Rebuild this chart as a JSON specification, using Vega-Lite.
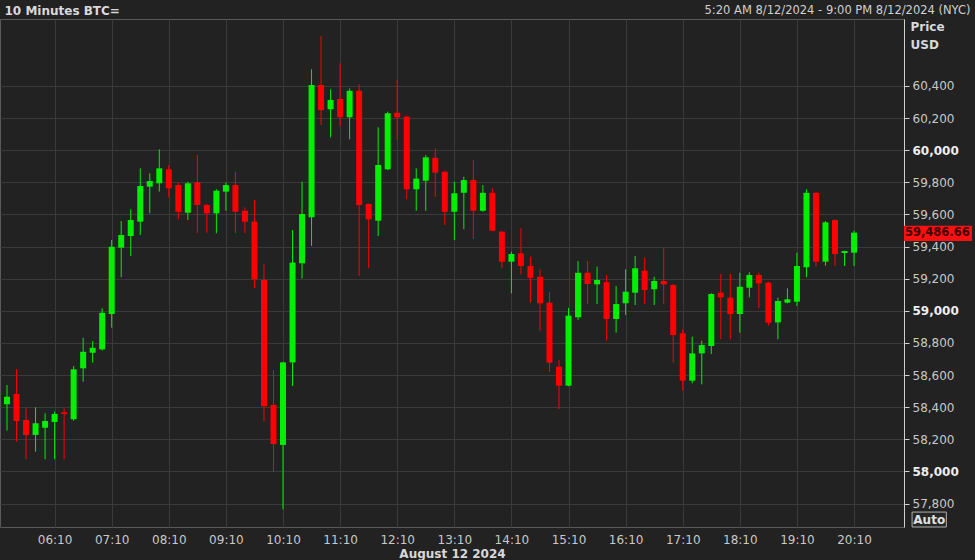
{
  "$schema": "https://vega.github.io/schema/vega-lite/v6.json",
  "width": 904,
  "height": 508,
  "autosize": {"type": "none"},
  "padding": {"left": 0, "top": 19, "right": 71, "bottom": 33},
  "background": "#222222",
  "config": {
    "view": {"stroke": "#5a5a5a", "fill": "#222222"},
    "axis": {"labelFont": "DejaVu Sans", "titleFont": "DejaVu Sans"}
  },
  "data": {"values": [
    {"t": "2024-08-12T05:20", "open": 58418, "high": 58538, "low": 58254, "close": 58465},
    {"t": "2024-08-12T05:30", "open": 58482, "high": 58636, "low": 58185, "close": 58314},
    {"t": "2024-08-12T05:40", "open": 58320, "high": 58393, "low": 58076, "close": 58227},
    {"t": "2024-08-12T05:50", "open": 58227, "high": 58399, "low": 58123, "close": 58300},
    {"t": "2024-08-12T06:00", "open": 58272, "high": 58362, "low": 58076, "close": 58314},
    {"t": "2024-08-12T06:10", "open": 58308, "high": 58372, "low": 58076, "close": 58358},
    {"t": "2024-08-12T06:20", "open": 58368, "high": 58393, "low": 58076, "close": 58358},
    {"t": "2024-08-12T06:30", "open": 58325, "high": 58656, "low": 58315, "close": 58636},
    {"t": "2024-08-12T06:40", "open": 58642, "high": 58833, "low": 58559, "close": 58745},
    {"t": "2024-08-12T06:50", "open": 58739, "high": 58812, "low": 58677, "close": 58770},
    {"t": "2024-08-12T07:00", "open": 58760, "high": 59016, "low": 58752, "close": 58988},
    {"t": "2024-08-12T07:10", "open": 58980, "high": 59441, "low": 58895, "close": 59399},
    {"t": "2024-08-12T07:20", "open": 59393, "high": 59559, "low": 59209, "close": 59472},
    {"t": "2024-08-12T07:30", "open": 59466, "high": 59632, "low": 59341, "close": 59565},
    {"t": "2024-08-12T07:40", "open": 59555, "high": 59887, "low": 59472, "close": 59777},
    {"t": "2024-08-12T07:50", "open": 59773, "high": 59856, "low": 59607, "close": 59808},
    {"t": "2024-08-12T08:00", "open": 59794, "high": 60005, "low": 59742, "close": 59887},
    {"t": "2024-08-12T08:10", "open": 59881, "high": 59908, "low": 59707, "close": 59763},
    {"t": "2024-08-12T08:20", "open": 59783, "high": 59798, "low": 59570, "close": 59617},
    {"t": "2024-08-12T08:30", "open": 59611, "high": 59804, "low": 59565, "close": 59794},
    {"t": "2024-08-12T08:40", "open": 59800, "high": 59970, "low": 59486, "close": 59659},
    {"t": "2024-08-12T08:50", "open": 59659, "high": 59665, "low": 59486, "close": 59607},
    {"t": "2024-08-12T09:00", "open": 59607, "high": 59757, "low": 59483, "close": 59748},
    {"t": "2024-08-12T09:10", "open": 59742, "high": 59798, "low": 59623, "close": 59783},
    {"t": "2024-08-12T09:20", "open": 59783, "high": 59866, "low": 59483, "close": 59617},
    {"t": "2024-08-12T09:30", "open": 59623, "high": 59644, "low": 59483, "close": 59555},
    {"t": "2024-08-12T09:40", "open": 59555, "high": 59690, "low": 59140, "close": 59196},
    {"t": "2024-08-12T09:50", "open": 59192, "high": 59290, "low": 58310, "close": 58407},
    {"t": "2024-08-12T10:00", "open": 58414, "high": 58631, "low": 57998, "close": 58171},
    {"t": "2024-08-12T10:10", "open": 58165, "high": 58683, "low": 57764, "close": 58679},
    {"t": "2024-08-12T10:20", "open": 58679, "high": 59503, "low": 58532, "close": 59300},
    {"t": "2024-08-12T10:30", "open": 59296, "high": 59804, "low": 59202, "close": 59603},
    {"t": "2024-08-12T10:40", "open": 59582, "high": 60504, "low": 59404, "close": 60406},
    {"t": "2024-08-12T10:50", "open": 60406, "high": 60711, "low": 60157, "close": 60250},
    {"t": "2024-08-12T11:00", "open": 60255, "high": 60379, "low": 60080, "close": 60313},
    {"t": "2024-08-12T11:10", "open": 60319, "high": 60541, "low": 60151, "close": 60205},
    {"t": "2024-08-12T11:20", "open": 60205, "high": 60385, "low": 60068, "close": 60370},
    {"t": "2024-08-12T11:30", "open": 60370, "high": 60410, "low": 59217, "close": 59659},
    {"t": "2024-08-12T11:40", "open": 59665, "high": 59669, "low": 59265, "close": 59570},
    {"t": "2024-08-12T11:50", "open": 59561, "high": 60143, "low": 59466, "close": 59908},
    {"t": "2024-08-12T12:00", "open": 59881, "high": 60240, "low": 59877, "close": 60230},
    {"t": "2024-08-12T12:10", "open": 60233, "high": 60437, "low": 60064, "close": 60205},
    {"t": "2024-08-12T12:20", "open": 60209, "high": 60215, "low": 59694, "close": 59757},
    {"t": "2024-08-12T12:30", "open": 59757, "high": 59887, "low": 59623, "close": 59823},
    {"t": "2024-08-12T12:40", "open": 59810, "high": 59970, "low": 59623, "close": 59956},
    {"t": "2024-08-12T12:50", "open": 59953, "high": 60012, "low": 59710, "close": 59860},
    {"t": "2024-08-12T13:00", "open": 59866, "high": 59870, "low": 59534, "close": 59617},
    {"t": "2024-08-12T13:10", "open": 59617, "high": 59804, "low": 59441, "close": 59732},
    {"t": "2024-08-12T13:20", "open": 59735, "high": 59835, "low": 59508, "close": 59814},
    {"t": "2024-08-12T13:30", "open": 59814, "high": 59939, "low": 59447, "close": 59623},
    {"t": "2024-08-12T13:40", "open": 59623, "high": 59783, "low": 59617, "close": 59735},
    {"t": "2024-08-12T13:50", "open": 59735, "high": 59763, "low": 59495, "close": 59499},
    {"t": "2024-08-12T14:00", "open": 59493, "high": 59497, "low": 59265, "close": 59306},
    {"t": "2024-08-12T14:10", "open": 59306, "high": 59368, "low": 59109, "close": 59354},
    {"t": "2024-08-12T14:20", "open": 59358, "high": 59514, "low": 59227, "close": 59279},
    {"t": "2024-08-12T14:30", "open": 59279, "high": 59337, "low": 59051, "close": 59206},
    {"t": "2024-08-12T14:40", "open": 59212, "high": 59258, "low": 58876, "close": 59047},
    {"t": "2024-08-12T14:50", "open": 59051, "high": 59119, "low": 58621, "close": 58677},
    {"t": "2024-08-12T15:00", "open": 58652, "high": 58694, "low": 58387, "close": 58534},
    {"t": "2024-08-12T15:10", "open": 58534, "high": 59019, "low": 58530, "close": 58970},
    {"t": "2024-08-12T15:20", "open": 58960, "high": 59310, "low": 58943, "close": 59237},
    {"t": "2024-08-12T15:30", "open": 59237, "high": 59310, "low": 59042, "close": 59167},
    {"t": "2024-08-12T15:40", "open": 59165, "high": 59275, "low": 59042, "close": 59192},
    {"t": "2024-08-12T15:50", "open": 59178, "high": 59223, "low": 58814, "close": 58949},
    {"t": "2024-08-12T16:00", "open": 58949, "high": 59155, "low": 58864, "close": 59042},
    {"t": "2024-08-12T16:10", "open": 59047, "high": 59258, "low": 58974, "close": 59119},
    {"t": "2024-08-12T16:20", "open": 59113, "high": 59341, "low": 59036, "close": 59265},
    {"t": "2024-08-12T16:30", "open": 59250, "high": 59333, "low": 59042, "close": 59130},
    {"t": "2024-08-12T16:40", "open": 59134, "high": 59212, "low": 59036, "close": 59186},
    {"t": "2024-08-12T16:50", "open": 59186, "high": 59389, "low": 59042, "close": 59165},
    {"t": "2024-08-12T17:00", "open": 59161, "high": 59167, "low": 58677, "close": 58849},
    {"t": "2024-08-12T17:10", "open": 58860, "high": 58885, "low": 58503, "close": 58565},
    {"t": "2024-08-12T17:20", "open": 58565, "high": 58839, "low": 58549, "close": 58735},
    {"t": "2024-08-12T17:30", "open": 58735, "high": 58814, "low": 58542, "close": 58787},
    {"t": "2024-08-12T17:40", "open": 58781, "high": 59109, "low": 58731, "close": 59105},
    {"t": "2024-08-12T17:50", "open": 59113, "high": 59229, "low": 58823, "close": 59084},
    {"t": "2024-08-12T18:00", "open": 59082, "high": 59229, "low": 58823, "close": 58980},
    {"t": "2024-08-12T18:10", "open": 58980, "high": 59237, "low": 58864, "close": 59150},
    {"t": "2024-08-12T18:20", "open": 59144, "high": 59240, "low": 59084, "close": 59223},
    {"t": "2024-08-12T18:30", "open": 59223, "high": 59237, "low": 59016, "close": 59171},
    {"t": "2024-08-12T18:40", "open": 59175, "high": 59181, "low": 58907, "close": 58926},
    {"t": "2024-08-12T18:50", "open": 58928, "high": 59082, "low": 58823, "close": 59061},
    {"t": "2024-08-12T19:00", "open": 59051, "high": 59140, "low": 59047, "close": 59072},
    {"t": "2024-08-12T19:10", "open": 59057, "high": 59362, "low": 59030, "close": 59279},
    {"t": "2024-08-12T19:20", "open": 59271, "high": 59757, "low": 59209, "close": 59735},
    {"t": "2024-08-12T19:30", "open": 59735, "high": 59742, "low": 59275, "close": 59306},
    {"t": "2024-08-12T19:40", "open": 59306, "high": 59559, "low": 59281, "close": 59551},
    {"t": "2024-08-12T19:50", "open": 59565, "high": 59570, "low": 59279, "close": 59354},
    {"t": "2024-08-12T20:00", "open": 59360, "high": 59374, "low": 59279, "close": 59372},
    {"t": "2024-08-12T20:10", "open": 59362, "high": 59499, "low": 59279, "close": 59486.66}
  ]},
  "layer": [
    {
      "mark": {"type": "rule", "strokeWidth": 1},
      "encoding": {
        "x": {"field": "t", "type": "temporal",
          "scale": {"nice": false, "padding": 0, "domain": [{"year": 2024, "month": 8, "date": 12, "hours": 5, "minutes": 12, "seconds": 38}, {"year": 2024, "month": 8, "date": 12, "hours": 21, "minutes": 2, "seconds": 30}]},
          "axis": {"orient": "top", "title": "5:20 AM 8/12/2024 - 9:00 PM 8/12/2024 (NYC)", "labels": false, "ticks": false, "domain": false, "grid": false,
            "titleX": 970, "titleY": -9, "titleAlign": "right", "titleBaseline": "middle", "titleFontSize": 11.5, "titleFontWeight": "normal", "titleColor": "#d0d0d0"}},
        "y": {"field": "low", "type": "quantitative", "scale": {"domain": [57654, 60817], "nice": false, "zero": false}, "axis": null},
        "y2": {"field": "high"},
        "color": {"condition": {"test": "datum.open < datum.close", "value": "#00f000"}, "value": "#ff0000"}
      }
    },
    {
      "mark": {"type": "bar", "width": 6},
      "encoding": {
        "x": {"field": "t", "type": "temporal",
          "scale": {"nice": false, "padding": 0, "domain": [{"year": 2024, "month": 8, "date": 12, "hours": 5, "minutes": 12, "seconds": 38}, {"year": 2024, "month": 8, "date": 12, "hours": 21, "minutes": 2, "seconds": 30}]},
          "axis": {"orient": "bottom", "format": "%H:%M", "title": "August 12 2024",
            "values": [
              {"year": 2024, "month": 8, "date": 12, "hours": 6, "minutes": 10},
              {"year": 2024, "month": 8, "date": 12, "hours": 7, "minutes": 10},
              {"year": 2024, "month": 8, "date": 12, "hours": 8, "minutes": 10},
              {"year": 2024, "month": 8, "date": 12, "hours": 9, "minutes": 10},
              {"year": 2024, "month": 8, "date": 12, "hours": 10, "minutes": 10},
              {"year": 2024, "month": 8, "date": 12, "hours": 11, "minutes": 10},
              {"year": 2024, "month": 8, "date": 12, "hours": 12, "minutes": 10},
              {"year": 2024, "month": 8, "date": 12, "hours": 13, "minutes": 10},
              {"year": 2024, "month": 8, "date": 12, "hours": 14, "minutes": 10},
              {"year": 2024, "month": 8, "date": 12, "hours": 15, "minutes": 10},
              {"year": 2024, "month": 8, "date": 12, "hours": 16, "minutes": 10},
              {"year": 2024, "month": 8, "date": 12, "hours": 17, "minutes": 10},
              {"year": 2024, "month": 8, "date": 12, "hours": 18, "minutes": 10},
              {"year": 2024, "month": 8, "date": 12, "hours": 19, "minutes": 10},
              {"year": 2024, "month": 8, "date": 12, "hours": 20, "minutes": 10}
            ],
            "grid": true, "gridColor": "#3a3a3a", "gridWidth": 1, "domain": false, "ticks": false,
            "labelPadding": 7, "labelFontSize": 12, "labelColor": "#c8c8c8", "labelFlush": false,
            "titleFontSize": 12, "titleFontWeight": "bold", "titleColor": "#d8d8d8", "titleY": 26, "titleBaseline": "middle"}},
        "y": {"field": "open", "type": "quantitative", "scale": {"domain": [57654, 60817], "nice": false, "zero": false},
          "axis": {"orient": "right", "values": [57800, 58000, 58200, 58400, 58600, 58800, 59000, 59200, 59400, 59600, 59800, 60000, 60200, 60400],
            "format": ",.0f", "grid": true, "gridColor": "#3a3a3a", "domainColor": "#d0d0d0", "tickColor": "#d0d0d0", "tickSize": 5,
            "labelPadding": 3, "labelFontSize": 12, "labelFlush": false,
            "labelColor": {"condition": {"test": "datum.value % 1000 === 0", "value": "#eeeeee"}, "value": "#c8c8c8"},
            "labelFontWeight": {"condition": {"test": "datum.value % 1000 === 0", "value": "bold"}, "value": "normal"},
            "title": ["Price", "USD"], "titleAngle": 0, "titleAlign": "left", "titleBaseline": "top", "titleX": 6, "titleY": 2,
            "titleFontSize": 12, "titleFontWeight": "bold", "titleColor": "#d8d8d8", "titleLineHeight": 18}},
        "y2": {"field": "close"},
        "color": {"condition": {"test": "datum.open < datum.close", "value": "#00f000"}, "value": "#ff0000"}
      }
    },
    {
      "data": {"values": [{"price": 59486.66}]},
      "mark": {"type": "rect", "color": "#ff1010"},
      "encoding": {
        "x": {"datum": {"year": 2024, "month": 8, "date": 12, "hours": 21, "minutes": 2, "seconds": 30}, "type": "temporal",
          "axis": {"orient": "top", "title": "10 Minutes BTC=", "labels": false, "ticks": false, "domain": false, "grid": false,
            "titleX": 4, "titleY": -9, "titleAlign": "left", "titleBaseline": "middle", "titleFontSize": 12, "titleFontWeight": "bold", "titleColor": "#d9d9d9"}},
        "x2": {"datum": {"year": 2024, "month": 8, "date": 12, "hours": 22, "minutes": 14}},
        "y": {"datum": 59530, "type": "quantitative", "axis": null},
        "y2": {"datum": 59434}
      }
    },
    {
      "data": {"values": [{"price": 59486.66}]},
      "mark": {"type": "text", "align": "left", "baseline": "middle", "font": "DejaVu Sans", "fontSize": 11.5, "fontWeight": "bold", "color": "#3c0000"},
      "encoding": {
        "x": {"datum": {"year": 2024, "month": 8, "date": 12, "hours": 21, "minutes": 3, "seconds": 30}, "type": "temporal", "axis": null},
        "y": {"field": "price", "type": "quantitative", "axis": null},
        "text": {"field": "price", "format": ",.2f"}
      }
    },
    {
      "data": {"values": [{"label": "Auto"}]},
      "mark": {"type": "rect", "fill": "#262626", "stroke": "#b0b0b0", "strokeWidth": 1},
      "encoding": {
        "x": {"datum": {"year": 2024, "month": 8, "date": 12, "hours": 21, "minutes": 11}, "type": "temporal", "axis": null},
        "x2": {"datum": {"year": 2024, "month": 8, "date": 12, "hours": 21, "minutes": 47}},
        "y": {"datum": 57747, "type": "quantitative", "axis": null},
        "y2": {"datum": 57654}
      }
    },
    {
      "data": {"values": [{"label": "Auto"}]},
      "mark": {"type": "text", "align": "center", "baseline": "middle", "font": "DejaVu Sans", "fontSize": 12, "fontWeight": "bold", "color": "#e0e0e0"},
      "encoding": {
        "x": {"datum": {"year": 2024, "month": 8, "date": 12, "hours": 21, "minutes": 29}, "type": "temporal", "axis": null},
        "y": {"datum": 57700, "type": "quantitative", "axis": null},
        "text": {"field": "label"}
      }
    }
  ],
  "resolve": {"axis": {"x": "independent", "y": "independent"}}
}
